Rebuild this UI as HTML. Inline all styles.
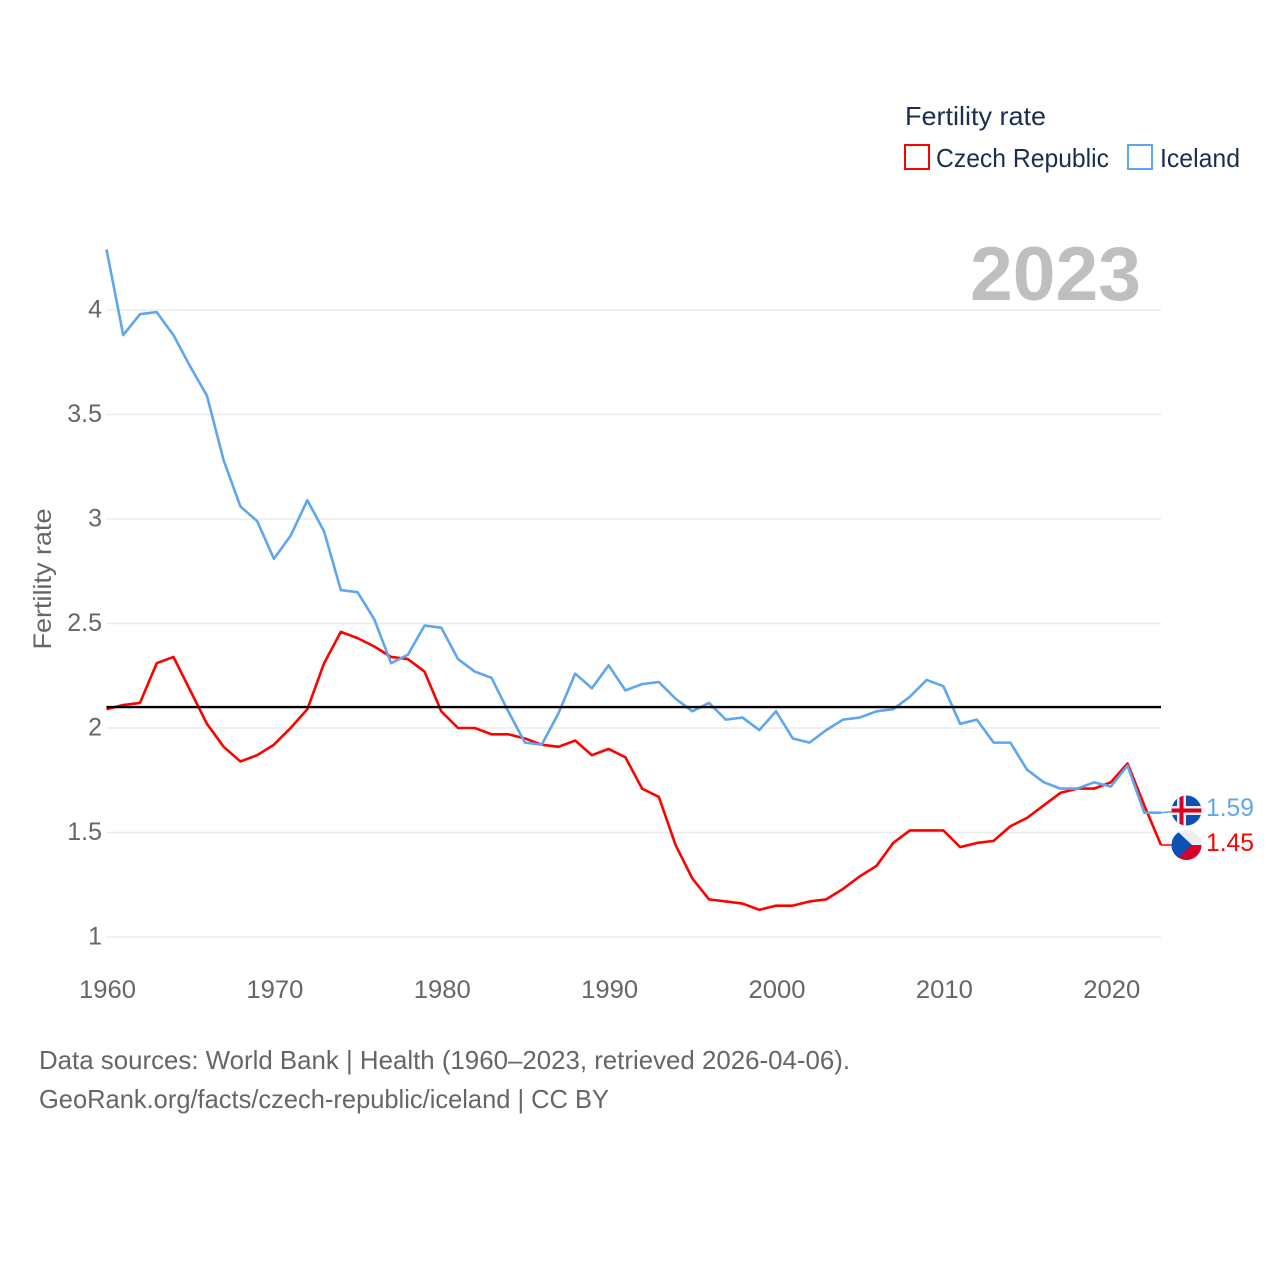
<!DOCTYPE html>
<html lang="en">
<head>
<meta charset="utf-8">
<title>Fertility rate: Czech Republic and Iceland</title>
<style>
html,body{margin:0;padding:0;background:#fff;}
svg{display:block;font-family:"Liberation Sans",sans-serif;}
</style>
</head>
<body>
<svg id="chart" width="1280" height="1280" viewBox="0 0 1280 1280" xmlns="http://www.w3.org/2000/svg">
  <defs>
    <clipPath id="clip-is"><circle cx="1186.5" cy="810.5" r="15"/></clipPath>
    <clipPath id="clip-cz"><circle cx="1186.5" cy="845" r="15"/></clipPath>
  </defs>

  <g id="grid"></g>
  <g id="yticks"></g>
  <g id="xticks"></g>

  <text x="1141" y="300" text-anchor="end" font-size="76" font-weight="bold" fill="#bfbfbf" textLength="171" lengthAdjust="spacingAndGlyphs">2023</text>

  <path id="line-czech" fill="none" stroke="#ff0000" stroke-width="2.6" stroke-linejoin="round"></path>
  <path id="line-iceland" fill="none" stroke="#5ea6ee" stroke-width="2.6" stroke-linejoin="round"></path>
  <line id="replacement-line" stroke="#000" stroke-width="2.4"></line>

  <line id="conn-czech" stroke="#ff0000" stroke-width="1.5"></line>
  <line id="conn-iceland" stroke="#5ea6ee" stroke-width="1.5"></line>

  <g clip-path="url(#clip-is)">
    <rect x="1171" y="795" width="31" height="31" fill="#0b52b3"/>
    <rect x="1171" y="806" width="31" height="9" fill="#eeeeee"/>
    <rect x="1177" y="795" width="9" height="31" fill="#eeeeee"/>
    <rect x="1171" y="808.5" width="31" height="4" fill="#d80027"/>
    <rect x="1179.5" y="795" width="4" height="31" fill="#d80027"/>
  </g>
  <g clip-path="url(#clip-cz)">
    <rect x="1171" y="830" width="31" height="15" fill="#eeeeee"/>
    <rect x="1171" y="845" width="31" height="16" fill="#d80027"/>
    <polygon points="1171,830 1176,830 1192,845 1176,860 1171,860" fill="#0b52b3"/>
  </g>

  <text id="value-iceland" x="1206" y="816" font-size="25" fill="#5ea6ee" textLength="48" lengthAdjust="spacingAndGlyphs"></text>
  <text id="value-czech" x="1206" y="851" font-size="25" fill="#ff0000" textLength="48" lengthAdjust="spacingAndGlyphs"></text>

  <text transform="translate(51,579) rotate(-90)" text-anchor="middle" font-size="25" fill="#666" textLength="141" lengthAdjust="spacingAndGlyphs">Fertility rate</text>

  <g>
    <text x="905" y="125" font-size="26" fill="#1a2f50" textLength="141" lengthAdjust="spacingAndGlyphs">Fertility rate</text>
    <g>
      <rect x="905" y="145" width="24" height="24" fill="none" stroke="#ff0000" stroke-width="2"/>
      <text x="936" y="167" font-size="26" fill="#1a2f50" textLength="173" lengthAdjust="spacingAndGlyphs">Czech Republic</text>
    </g>
    <g>
      <rect x="1128" y="145" width="24" height="24" fill="none" stroke="#5ea6ee" stroke-width="2"/>
      <text x="1160" y="167" font-size="26" fill="#1a2f50" textLength="80" lengthAdjust="spacingAndGlyphs">Iceland</text>
    </g>
  </g>

  <g>
    <text x="39" y="1069" font-size="26" fill="#666" textLength="811" lengthAdjust="spacingAndGlyphs">Data sources: World Bank | Health (1960–2023, retrieved 2026-04-06).</text>
    <text x="39" y="1108" font-size="26" fill="#666" textLength="570" lengthAdjust="spacingAndGlyphs">GeoRank.org/facts/czech-republic/iceland | CC BY</text>
  </g>
</svg>

<script>
const startYear = 1960;
const endYear = 2023;
const yTicks = [1, 1.5, 2, 2.5, 3, 3.5, 4];
const xTicks = [1960, 1970, 1980, 1990, 2000, 2010, 2020];
const replacementRate = 2.1;
const czechValues = [
  2.09,2.11,2.12,2.31,2.34,2.18,2.02,1.91,1.84,1.87,
  1.92,2.00,2.09,2.31,2.46,2.43,2.39,2.34,2.33,2.27,
  2.08,2.00,2.00,1.97,1.97,1.95,1.92,1.91,1.94,1.87,
  1.90,1.86,1.71,1.67,1.44,1.28,1.18,1.17,1.16,1.13,
  1.15,1.15,1.17,1.18,1.23,1.29,1.34,1.45,1.51,1.51,
  1.51,1.43,1.45,1.46,1.53,1.57,1.63,1.69,1.71,1.71,
  1.74,1.83,1.63,1.44
];
const icelandValues = [
  4.29,3.88,3.98,3.99,3.88,3.73,3.59,3.28,3.06,2.99,
  2.81,2.92,3.09,2.94,2.66,2.65,2.52,2.31,2.35,2.49,
  2.48,2.33,2.27,2.24,2.08,1.93,1.92,2.07,2.26,2.19,
  2.30,2.18,2.21,2.22,2.14,2.08,2.12,2.04,2.05,1.99,
  2.08,1.95,1.93,1.99,2.04,2.05,2.08,2.09,2.15,2.23,
  2.20,2.02,2.04,1.93,1.93,1.80,1.74,1.71,1.71,1.74,
  1.72,1.82,1.595,1.595
];
const czechLabel = "1.45";
const icelandLabel = "1.59";

const SVG_NS = "http://www.w3.org/2000/svg";
const plotLeft = 106.5, plotRight = 1161, yAtOne = 937, yAtFour = 310;
function xScale(year) {
  return plotLeft + (year - startYear) * (plotRight - plotLeft) / (endYear - startYear);
}
function yScale(v) {
  return yAtOne - (v - 1) * (yAtOne - yAtFour) / 3;
}
function linePath(values) {
  return values.map(function (v, i) {
    return (i ? "L" : "M") + xScale(startYear + i).toFixed(2) + " " + yScale(v).toFixed(2);
  }).join(" ");
}

const gridGroup = document.getElementById("grid");
const yGroup = document.getElementById("yticks");
yTicks.forEach(function (t) {
  const g = document.createElementNS(SVG_NS, "line");
  
  
  g.setAttribute("x1", plotLeft);
  g.setAttribute("x2", plotRight);
  g.setAttribute("y1", yScale(t));
  g.setAttribute("y2", yScale(t));
  g.setAttribute("stroke", "#ebebeb");
  g.setAttribute("stroke-width", "1.5");
  gridGroup.appendChild(g);

  const lab = document.createElementNS(SVG_NS, "text");
  
  
  lab.setAttribute("x", 102);
  lab.setAttribute("y", yScale(t) + 7.5);
  lab.setAttribute("text-anchor", "end");
  lab.setAttribute("font-size", "25");
  lab.setAttribute("fill", "#666");
  lab.textContent = String(t);
  yGroup.appendChild(lab);
});

const xGroup = document.getElementById("xticks");
xTicks.forEach(function (t) {
  const lab = document.createElementNS(SVG_NS, "text");
  
  
  lab.setAttribute("x", xScale(t) + 1);
  lab.setAttribute("y", 998);
  lab.setAttribute("text-anchor", "middle");
  lab.setAttribute("font-size", "25");
  lab.setAttribute("fill", "#666");
  lab.setAttribute("textLength", "57");
  lab.setAttribute("lengthAdjust", "spacingAndGlyphs");
  lab.textContent = String(t);
  xGroup.appendChild(lab);
});

document.getElementById("line-czech").setAttribute("d", linePath(czechValues));
document.getElementById("line-iceland").setAttribute("d", linePath(icelandValues));

const refLine = document.getElementById("replacement-line");
refLine.setAttribute("x1", plotLeft);
refLine.setAttribute("x2", plotRight);
refLine.setAttribute("y1", yScale(replacementRate));
refLine.setAttribute("y2", yScale(replacementRate));

const connCzech = document.getElementById("conn-czech");
connCzech.setAttribute("x1", xScale(endYear));
connCzech.setAttribute("y1", yScale(czechValues[czechValues.length - 1]));
connCzech.setAttribute("x2", 1186.5);
connCzech.setAttribute("y2", 845);

const connIceland = document.getElementById("conn-iceland");
connIceland.setAttribute("x1", xScale(endYear));
connIceland.setAttribute("y1", yScale(icelandValues[icelandValues.length - 1]));
connIceland.setAttribute("x2", 1186.5);
connIceland.setAttribute("y2", 810.5);

document.getElementById("value-czech").textContent = czechLabel;
document.getElementById("value-iceland").textContent = icelandLabel;
</script>
</body>
</html>
